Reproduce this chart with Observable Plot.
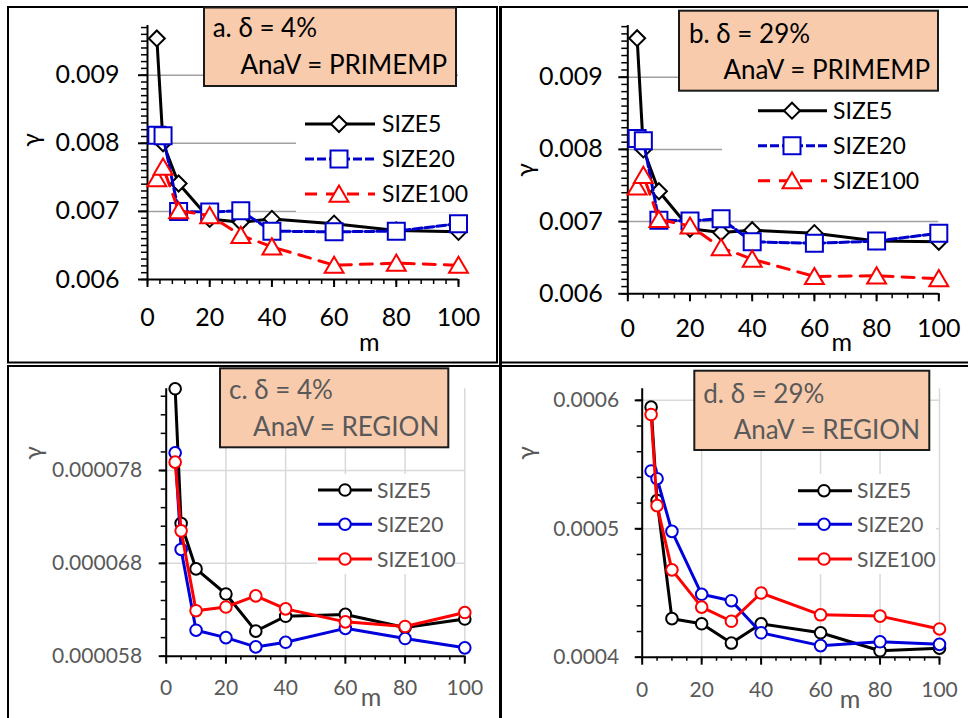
<!DOCTYPE html>
<html><head><meta charset="utf-8">
<script src="https://cdn.jsdelivr.net/npm/d3@7"></script>
<script src="https://cdn.jsdelivr.net/npm/@observablehq/plot@0.6"></script>
<style>
body{margin:0;background:#fff;font-family:Lato,"Open Sans",sans-serif}
#root{position:relative;width:968px;height:718px;overflow:hidden;background:#fff}
.panel{position:absolute}
#overlay{position:absolute;left:0;top:0;pointer-events:none}
</style></head>
<body><div id="root"></div>
<script>
// ---------- data ----------
const mValues = [3, 5, 10, 20, 30, 40, 60, 80, 100];
const seriesNames = ["SIZE5", "SIZE20", "SIZE100"];

const aSize5   = [0.00954, 0.00800, 0.00741, 0.00689, 0.00684, 0.00689, 0.00682, 0.00672, 0.00670];
const aSize20  = [0.00812, 0.00811, 0.00700, 0.00699, 0.00701, 0.00671, 0.00670, 0.00671, 0.00682];
const aSize100 = [0.00748, 0.00765, 0.00701, 0.00694, 0.00665, 0.00648, 0.00621, 0.00624, 0.00621];

const bSize5   = [0.00954, 0.00800, 0.00742, 0.00690, 0.00685, 0.00688, 0.00684, 0.00673, 0.00672];
const bSize20  = [0.00815, 0.00812, 0.00702, 0.00701, 0.00704, 0.00672, 0.00670, 0.00673, 0.00684];
const bSize100 = [0.00748, 0.00764, 0.00703, 0.00694, 0.00664, 0.00648, 0.00624, 0.00625, 0.00621];

const cSize5   = [0.0000868, 0.0000723, 0.0000674, 0.0000647, 0.0000607, 0.0000623, 0.0000625, 0.0000611, 0.0000620];
const cSize20  = [0.0000799, 0.0000695, 0.0000608, 0.0000600, 0.0000590, 0.0000595, 0.0000610, 0.0000599, 0.0000589];
const cSize100 = [0.0000789, 0.0000715, 0.0000629, 0.0000633, 0.0000645, 0.0000631, 0.0000617, 0.0000612, 0.0000627];

const dSize5   = [0.0005948, 0.000522, 0.000430, 0.000426, 0.000411, 0.000426, 0.000419, 0.000405, 0.000407];
const dSize20  = [0.000545, 0.000539, 0.000498, 0.000449, 0.000444, 0.000419, 0.000409, 0.000412, 0.000410];
const dSize100 = [0.000589, 0.000518, 0.000468, 0.000439, 0.000428, 0.000450, 0.000433, 0.000432, 0.000422];

const xMajorTicks = [0, 20, 40, 60, 80, 100];
const yMajorAB = [0.006, 0.007, 0.008, 0.009];
const yMajorC = [0.000058, 0.000068, 0.000078];
const yMajorD = [0.0004, 0.0005, 0.0006];

const titlesLine1 = ["a. δ = 4%", "b. δ = 29%", "c. δ = 4%", "d. δ = 29%"];
const titlesLine2 = ["AnaV = PRIMEMP", "AnaV = PRIMEMP", "AnaV = REGION", "AnaV = REGION"];

// ---------- helpers ----------
const tidy = (vals) => mValues.map((m, i) => ({m, v: vals[i]}));
const range = (a, b, s) => d3.range(Math.round((b - a) / s) + 1).map(i => +(a + i * s).toPrecision(10));

const diamondSym = {draw(ctx, size){const r = Math.sqrt(size/Math.PI); ctx.moveTo(0,-r); ctx.lineTo(r,0); ctx.lineTo(0,r); ctx.lineTo(-r,0); ctx.closePath();}};
const squareSym = {draw(ctx, size){const r = Math.sqrt(size/Math.PI); ctx.moveTo(-r,-r); ctx.lineTo(r,-r); ctx.lineTo(r,r); ctx.lineTo(-r,r); ctx.closePath();}};
const triSym = {draw(ctx, size){const r = Math.sqrt(size/Math.PI); ctx.moveTo(0,-0.95*r); ctx.lineTo(1.05*r,0.85*r); ctx.lineTo(-1.05*r,0.85*r); ctx.closePath();}};

const styleAB = [
  {stroke:"#000", dash:null, sym: diamondSym, r: 8},
  {stroke:"#0000CC", dash:"9,3", sym: squareSym, r: 8.5},
  {stroke:"#FF0000", dash:"12,9", sym: triSym, r: 9}
];
const styleCD = [
  {stroke:"#000", dash:null, sym: "circle", r: 5.8},
  {stroke:"#0000DD", dash:null, sym: "circle", r: 5.8},
  {stroke:"#FF0000", dash:null, sym: "circle", r: 5.8}
];

const panels = [
  {series:[aSize5,aSize20,aSize100], st:styleAB, left:0, top:0, width:490, height:362,
   mL:147, mR:32, mT:25, mB:83, yDomain:[0.006,0.00973], yMajor:yMajorAB, yMinor:range(0.006,0.0097,0.0001),
   xMinorStep:4, fmt:d3.format(".3f"), grid:[0.007,0.008,0.009], gridColor:"#a0a0a0", vgrid:false,
   fontSize:25, textColor:"#000", yTick:[9,6,19], xTick:[8,5,21]},
  {series:[bSize5,bSize20,bSize100], st:styleAB, left:490, top:0, width:478, height:362,
   mL:137.3, mR:29.7, mT:25, mB:68.7, yDomain:[0.006,0.009716], yMajor:yMajorAB, yMinor:range(0.006,0.0097,0.0001),
   xMinorStep:5, fmt:d3.format(".3f"), grid:[0.007,0.008,0.009], gridColor:"#a0a0a0", vgrid:false,
   fontSize:25, textColor:"#000", yTick:[9,6,16], xTick:[8,5,17]},
  {series:[cSize5,cSize20,cSize100], st:styleCD, left:0, top:360, width:490, height:358,
   mL:165.7, mR:25.7, mT:28.3, mB:62.3, yDomain:[0.000058,0.0000868], yMajor:yMajorC, yMinor:range(0.000058,0.000086,0.000002),
   xMinorStep:5, fmt:d3.format(".6f"), grid:[0.000068,0.000078], gridColor:"#d9d9d9", vgrid:true,
   fontSize:21, textColor:"#595959", yTick:[7,5,17], xTick:[8,4,16]},
  {series:[dSize5,dSize20,dSize100], st:styleCD, left:490, top:360, width:478, height:358,
   mL:151.7, mR:29, mT:28.3, mB:61.3, yDomain:[0.0004,0.000609], yMajor:yMajorD, yMinor:range(0.0004,0.0006,0.00002),
   xMinorStep:5, fmt:d3.format(".4f"), grid:[0.0005,0.0006], gridColor:"#d9d9d9", vgrid:true,
   fontSize:21, textColor:"#595959", yTick:[7,5,16], xTick:[8,4,17]}
];

const root = document.getElementById("root");

panels.forEach(p => {
  const marks = [];
  if (p.vgrid) marks.push(Plot.ruleX([20,40,60,80,100], {stroke:p.gridColor, strokeWidth:1.5}));
  marks.push(Plot.ruleY(p.grid, {stroke:p.gridColor, strokeWidth:1.5}));
  marks.push(Plot.axisY({ticks:p.yMinor, label:null, tickSize:p.yTick[1], tickPadding:0, tickFormat:()=>"", stroke:"#000", strokeWidth:1.5}));
  marks.push(Plot.axisY({ticks:p.yMajor, label:null, tickSize:p.yTick[0], tickPadding:p.yTick[2], tickFormat:p.fmt, stroke:"#000", strokeWidth:2,
    fill:p.textColor, fontSize:p.fontSize, fontFamily:"Lato"}));
  marks.push(Plot.axisX({ticks:range(0,100,p.xMinorStep), label:null, tickSize:p.xTick[1], tickPadding:0, tickFormat:()=>"", stroke:"#000", strokeWidth:1.5}));
  marks.push(Plot.axisX({ticks:xMajorTicks, label:null, tickSize:p.xTick[0], tickPadding:p.xTick[2], tickFormat:d3.format("d"), stroke:"#000", strokeWidth:2,
    fill:p.textColor, fontSize:p.fontSize, fontFamily:"Lato"}));
  marks.push(Plot.ruleX([0], {stroke:"#000", strokeWidth:2}));
  marks.push(Plot.ruleY([p.yDomain[0]], {stroke:"#000", strokeWidth:2}));
  p.series.forEach((vals, i) => {
    const s = p.st[i];
    const data = tidy(vals);
    marks.push(Plot.line(data, {x:"m", y:"v", stroke:s.stroke, strokeWidth:3, strokeDasharray:s.dash, strokeLinejoin:"round"}));
    marks.push(Plot.dot(data, {x:"m", y:"v", symbol:s.sym, r:s.r, stroke:s.stroke, fill:"#fff", strokeWidth:2}));
  });
  const svg = Plot.plot({
    width:p.width, height:p.height,
    marginLeft:p.mL, marginRight:p.mR, marginTop:p.mT, marginBottom:p.mB,
    x:{domain:[0,100], label:null}, y:{domain:p.yDomain, label:null},
    style:{background:"transparent", fontFamily:"Lato", overflow:"visible", maxWidth:"none"},
    marks
  });
  const div = document.createElement("div");
  div.className = "panel";
  div.style.left = p.left + "px"; div.style.top = p.top + "px";
  div.style.width = p.width + "px"; div.style.height = p.height + "px";
  div.appendChild(svg);
  root.appendChild(div);
});

// ---------- overlay: frames, title boxes, legends, axis titles ----------
const ov = d3.select(root).append("svg").attr("id","overlay").attr("width",968).attr("height",718)
  .style("font-family","Lato");

// frames
ov.append("rect").attr("x",8).attr("y",7).attr("width",489).attr("height",355.5).attr("fill","none").attr("stroke","#000").attr("stroke-width",2);
ov.append("line").attr("x1",500.5).attr("x2",500.5).attr("y1",6).attr("y2",718).attr("stroke","#000").attr("stroke-width",3);
ov.append("line").attr("x1",500).attr("x2",968).attr("y1",7).attr("y2",7).attr("stroke","#000").attr("stroke-width",2);
ov.append("line").attr("x1",500).attr("x2",968).attr("y1",362.5).attr("y2",362.5).attr("stroke","#000").attr("stroke-width",2);
ov.append("line").attr("x1",7).attr("x2",968).attr("y1",366).attr("y2",366).attr("stroke","#000").attr("stroke-width",2);
ov.append("line").attr("x1",8).attr("x2",8).attr("y1",365).attr("y2",718).attr("stroke","#000").attr("stroke-width",2);

// title boxes
const titleBoxes = [
  {x:204, y:7.5, w:252, h:78.5, t1x:212.7, t1y:37.3, t2x:447, t2y:74, color:"#000"},
  {x:679, y:10.7, w:259, h:80, t1x:689, t1y:42.7, t2x:930, t2y:79.3, color:"#000"},
  {x:220, y:368.3, w:228.3, h:79, t1x:229, t1y:399.3, t2x:439.3, t2y:436, color:"#595959"},
  {x:694.3, y:370.7, w:235, h:79.3, t1x:703.3, t1y:403.3, t2x:920, t2y:439, color:"#595959"}
];
titleBoxes.forEach((b, i) => {
  ov.append("rect").attr("x",b.x).attr("y",b.y).attr("width",b.w).attr("height",b.h)
    .attr("fill","#F8CBAD").attr("stroke","#1a1a1a").attr("stroke-width",2);
  ov.append("text").attr("x",b.t1x).attr("y",b.t1y).attr("font-size",26).attr("fill",b.color).text(titlesLine1[i]);
  ov.append("text").attr("x",b.t2x).attr("y",b.t2y).attr("font-size",26).attr("fill",b.color).attr("text-anchor","end").text(titlesLine2[i]);
});

// legends
const legends = [
  {bx:296, by:100, bw:178, bh:112, x1:305, x2:375, mx:339, tx:382, rows:[124,159,194], fs:23, st:styleAB, color:"#000"},
  {bx:722, by:92, bw:220, bh:108, x1:758, x2:827, mx:792, tx:833, rows:[110.7,145.7,180.7], fs:23, st:styleAB, color:"#000"},
  {bx:317, by:474, bw:136, bh:100, x1:318, x2:372, mx:345, tx:377, rows:[490,524.3,559], fs:21, st:styleCD, color:"#595959"},
  {bx:796, by:474, bw:140, bh:100, x1:798, x2:852, mx:824, tx:857, rows:[490.7,524.3,559], fs:21, st:styleCD, color:"#595959"}
];
legends.forEach(L => {
  ov.append("rect").attr("x",L.bx).attr("y",L.by).attr("width",L.bw).attr("height",L.bh).attr("fill","#fff");
  L.rows.forEach((y, i) => {
    const s = L.st[i];
    ov.append("line").attr("x1",L.x1).attr("x2",L.x2).attr("y1",y).attr("y2",y)
      .attr("stroke",s.stroke).attr("stroke-width",3).attr("stroke-dasharray",s.dash);
    const sym = s.sym === "circle" ? d3.symbolCircle : s.sym;
    ov.append("path").attr("d", d3.symbol(sym, Math.PI*s.r*s.r)()).attr("transform",`translate(${L.mx},${y})`)
      .attr("fill","#fff").attr("stroke",s.stroke).attr("stroke-width",2);
    ov.append("text").attr("x",L.tx).attr("y",y + L.fs*0.36).attr("font-size",L.fs).attr("fill",L.color).text(seriesNames[i]);
  });
});

// axis titles
const axisTitles = [
  {mx:369.3, my:350.7, gx:36, gy:140, color:"#000"},
  {mx:841.7, my:350.7, gx:530, gy:170, color:"#000"},
  {mx:371, my:705.7, gx:38, gy:453, color:"#595959"},
  {mx:850, my:708, gx:531, gy:453, color:"#595959"}
];
axisTitles.forEach(a => {
  ov.append("text").attr("x",a.mx).attr("y",a.my).attr("font-size",25).attr("fill",a.color).attr("text-anchor","middle").text("m");
  ov.append("text").attr("transform",`translate(${a.gx},${a.gy}) rotate(-90)`).attr("dy","0.16em")
    .attr("font-size",25).attr("fill",a.color).attr("text-anchor","middle").text("γ");
});
</script>
</body></html>
